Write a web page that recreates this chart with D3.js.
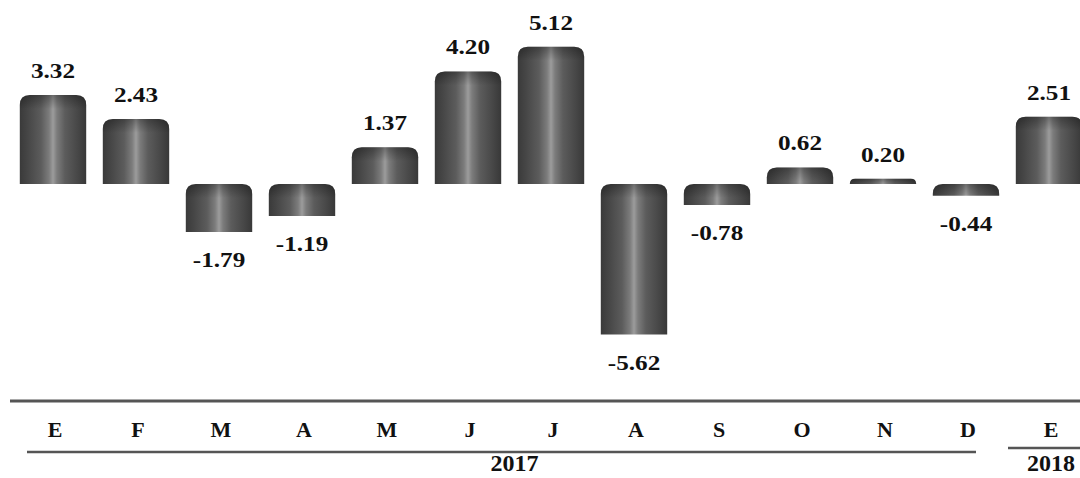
<!DOCTYPE html>
<html>
<head>
<meta charset="utf-8">
<script src="https://cdn.jsdelivr.net/npm/d3@7"></script>
<style>
  html, body { margin: 0; padding: 0; background: #fff; }
  svg { display: block; }
  text { font-family: "Liberation Serif", "Times New Roman", serif; font-weight: bold; fill: #111; }
</style>
</head>
<body>
<div id="chart"></div>
<script>
// datos
const months = ["E", "F", "M", "A", "M", "J", "J", "A", "S", "O", "N", "D", "E"];
const values = [3.32, 2.43, -1.79, -1.19, 1.37, 4.20, 5.12, -5.62, -0.78, 0.62, 0.20, -0.44, 2.51];
const years = ["2017", "2018"];
const yearStart = [0, 12];
const yearEnd = [11, 12];

const width = 1080;
const height = 478;

const svg = d3.select("#chart")
  .append("svg")
  .attr("width", width)
  .attr("height", height);

// escalas
const idx = months.map((d, i) => i);
const x = d3.scaleBand()
  .domain(idx)
  .range([11.5, 1090.5])
  .paddingInner(0.2)
  .paddingOuter(0.1);

const y = d3.scaleLinear()
  .domain([-6, 6])
  .range([184 + 6 * 26.8, 184 - 6 * 26.8]);

// degradado cilindrico
const defs = svg.append("defs");
const grad = defs.append("linearGradient")
  .attr("id", "cyl")
  .attr("x1", "0%").attr("x2", "100%")
  .attr("y1", "0%").attr("y2", "0%");
[
  [0, "#3a3a3a"], [0.12, "#464646"], [0.32, "#5c5c5c"], [0.44, "#7c7c7c"],
  [0.5, "#9c9c9c"], [0.56, "#7c7c7c"], [0.68, "#5c5c5c"], [0.88, "#464646"], [1, "#383838"]
].forEach(s => grad.append("stop").attr("offset", s[0]).attr("stop-color", s[1]));

const cap = defs.append("linearGradient")
  .attr("id", "cap")
  .attr("x1", "0%").attr("x2", "0%")
  .attr("y1", "0%").attr("y2", "100%");
cap.append("stop").attr("offset", 0).attr("stop-color", "#000").attr("stop-opacity", 0.3);
cap.append("stop").attr("offset", 1).attr("stop-color", "#000").attr("stop-opacity", 0);

function barPath(i, v, capOnly) {
  const x0 = x(i), x1 = x(i) + x.bandwidth();
  const top = Math.min(y(v), y(0));
  const bot = Math.max(y(v), y(0));
  const r = Math.min(10, bot - top, x.bandwidth() / 2);
  const b = capOnly ? Math.min(bot, top + 14) : bot;
  return `M${x0},${b}V${top + r}Q${x0},${top} ${x0 + r},${top}H${x1 - r}Q${x1},${top} ${x1},${top + r}V${b}Z`;
}

// barras
svg.selectAll("path.bar")
  .data(values)
  .enter()
  .append("path")
  .attr("class", "bar")
  .attr("d", (d, i) => barPath(i, d, false))
  .attr("fill", "url(#cyl)");

svg.selectAll("path.cap")
  .data(values)
  .enter()
  .append("path")
  .attr("class", "cap")
  .attr("d", (d, i) => barPath(i, d, true))
  .attr("fill", "url(#cap)");

// etiquetas de valores
svg.selectAll("text.val")
  .data(values)
  .enter()
  .append("text")
  .attr("class", "val")
  .attr("text-anchor", "middle")
  .attr("font-size", 21)
  .attr("transform", (d, i) => {
    const cx = x(i) + x.bandwidth() / 2;
    const by = d >= 0 ? y(d) - 17 : y(d) + 35;
    return `translate(${cx},${by}) scale(1.2,1)`;
  })
  .text(d => d.toFixed(2));

// eje inferior
svg.append("line")
  .attr("x1", 10).attr("x2", width)
  .attr("y1", 401).attr("y2", 401)
  .attr("stroke", "#555")
  .attr("stroke-width", 3);

svg.selectAll("text.month")
  .data(months)
  .enter()
  .append("text")
  .attr("class", "month")
  .attr("text-anchor", "middle")
  .attr("font-size", 22)
  .attr("x", (d, i) => x(i) + x.bandwidth() / 2 + 2)
  .attr("y", 437)
  .text(d => d);

// lineas y etiquetas de años
years.forEach((yr, k) => {
  const a = yearStart[k], b = yearEnd[k];
  const first = x(a) + x.bandwidth() / 2;
  const last = x(b) + x.bandwidth() / 2;
  const lx1 = k === 0 ? first - 26 : first - 41;
  const lx2 = k === 0 ? last + 10 : width;
  const ly = k === 0 ? 452 : 448;
  svg.append("line")
    .attr("x1", lx1).attr("x2", lx2)
    .attr("y1", ly).attr("y2", ly)
    .attr("stroke", "#555")
    .attr("stroke-width", 2.5);
  svg.append("text")
    .attr("text-anchor", "middle")
    .attr("font-size", 24)
    .attr("x", k === 0 ? (first + last) / 2 + 5 : first + 2)
    .attr("y", 471)
    .text(yr);
});
</script>
</body>
</html>
